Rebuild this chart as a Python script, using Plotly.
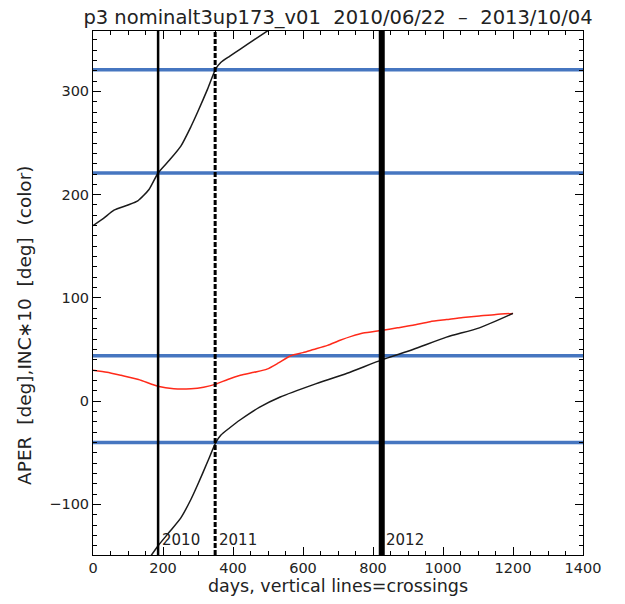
import plotly.graph_objects as go

# ---- data ----
aper_upper_days = [0, 30, 60, 100, 128, 160, 186, 220, 251, 280, 299, 327, 351, 365, 390, 421, 460, 505]
aper_upper_vals = [170, 177, 185, 190, 194, 205, 221, 234, 247, 266, 280, 302, 322, 328, 334, 341, 350, 360]

aper_lower_days = [165, 186, 220, 251, 280, 299, 327, 351, 365, 390, 421, 475, 535, 630, 726, 825, 914, 1010, 1104, 1200]
aper_lower_vals = [-150, -140, -126, -113, -95, -81, -59, -40, -33, -26, -18, -6, 4, 16, 27, 40, 50, 62, 71, 85]

inc_days = [0, 40, 80, 130, 185, 231, 280, 316, 351, 385, 421, 460, 497, 530, 565, 600, 630, 670, 706, 740,
            772, 823, 870, 914, 963, 1010, 1057, 1104, 1151, 1200]
inc_vals = [30, 28, 25, 21, 14.5, 12, 12, 13.5, 16.5, 21, 25, 28, 31, 37, 44, 47, 50, 54, 59, 63,
            66, 68.5, 71, 73.5, 77, 79, 81, 82.5, 84, 85]

blue_levels = [321, 221, 44, -40]
crossing_days = [186, 349, 825]
crossing_labels = ["2010", "2011", "2012"]

x_range = [0, 1400]
y_range = [-149, 358.5]

title_text = "p3 nominalt3up173_v01  2010/06/22  \u2013  2013/10/04"
x_title = "days, vertical lines=crossings"
y_title = "APER  [deg],INC\u221710  [deg]  (color)"

# ---- styles ----
FONT = "DejaVu Sans"
TXT = "#222222"
BLUE = "#4676c0"
cross_styles = [dict(width=2.5, dash="solid"), dict(width=3, dash="5px,2px"), dict(width=6, dash="solid")]

fig = go.Figure()

for lv in blue_levels:
    fig.add_trace(go.Scatter(x=x_range, y=[lv, lv], mode="lines",
                             line=dict(color=BLUE, width=3.5), hoverinfo="skip"))

fig.add_trace(go.Scatter(x=inc_days, y=inc_vals, mode="lines",
                         line=dict(color="#ff2a1a", width=1.5, shape="spline", smoothing=0.6)))
fig.add_trace(go.Scatter(x=aper_upper_days, y=aper_upper_vals, mode="lines",
                         line=dict(color="#1a1a1a", width=1.5, shape="spline", smoothing=0.6)))
fig.add_trace(go.Scatter(x=aper_lower_days, y=aper_lower_vals, mode="lines",
                         line=dict(color="#1a1a1a", width=1.5, shape="spline", smoothing=0.6)))

for d, lab, st in zip(crossing_days, crossing_labels, cross_styles):
    fig.add_shape(type="line", xref="x", yref="paper", x0=d, x1=d, y0=0, y1=1,
                  line=dict(color="black", width=st["width"], dash=st["dash"]), layer="above")
    fig.add_annotation(x=d, y=-134, xref="x", yref="y", text=lab, showarrow=False,
                       xanchor="left", yanchor="middle", xshift=2,
                       font=dict(family=FONT, size=15, color=TXT))

axis_common = dict(showline=True, linecolor="black", linewidth=1, mirror="allticks",
                   ticks="inside", ticklen=8, tickwidth=1, tickcolor="black",
                   showgrid=False, zeroline=False, tickmode="linear", tick0=0,
                   tickfont=dict(family=FONT, size=14.5, color=TXT))

fig.update_xaxes(range=x_range, dtick=200,
                 minor=dict(ticks="inside", ticklen=4, dtick=50, tick0=0, tickcolor="black", showgrid=False),
                 title=dict(text=x_title, font=dict(family=FONT, size=17.5, color=TXT), standoff=3),
                 **axis_common)
fig.update_yaxes(range=y_range, dtick=100,
                 minor=dict(ticks="inside", ticklen=4, dtick=10, tick0=0, tickcolor="black", showgrid=False),
                 **axis_common)

fig.add_annotation(text=y_title, xref="paper", yref="paper", x=-0.14, y=0.438,
                   textangle=-90, showarrow=False, xanchor="center", yanchor="middle",
                   font=dict(family=FONT, size=18.5, color=TXT))

# page body has an 8px default margin: shrink the figure and margins to compensate
fig.update_layout(
    width=617, height=596,
    margin=dict(l=85, r=42, t=23, b=46),
    paper_bgcolor="white", plot_bgcolor="white",
    showlegend=False,
    title=dict(text=title_text, x=0.5, xref="paper", xanchor="center", y=0.985, yanchor="middle",
               font=dict(family=FONT, size=19.5, color=TXT)),
)

fig.write_html("out.html")
